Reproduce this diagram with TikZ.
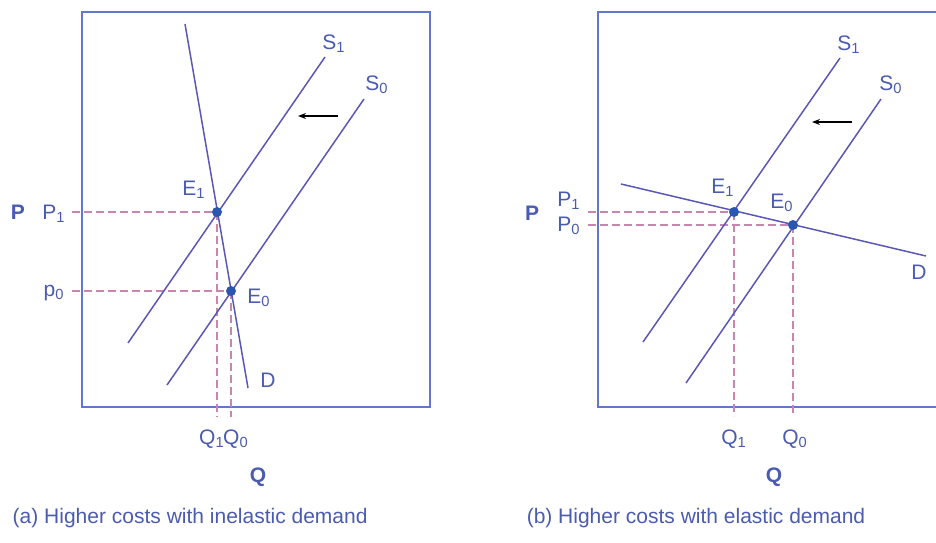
\documentclass[tikz,border=0pt]{standalone}
\usepackage{fontspec}
\setmainfont{Liberation Sans}
\usetikzlibrary{arrows.meta, positioning}
\definecolor{cframe}{HTML}{5F78CC}
\definecolor{ccurve}{HTML}{5A58B4}
\definecolor{ctext}{HTML}{4B5BB0}
\definecolor{cdash}{HTML}{C785B0}
\definecolor{cdot}{HTML}{2A56B2}
\tikzset{
  every picture/.style={line width=0.75pt},
  frame/.style={draw=cframe, line width=1pt},
  curve/.style={draw=ccurve, line width=0.75pt},
  guide/.style={draw=cdash, dash pattern=on 4pt off 2pt, line width=0.6pt},
  eq/.style={circle, fill=cdot, inner sep=0pt, minimum size=5pt},
  lbl/.style={text=ctext, inner sep=0pt, font=\fontsize{10.5}{12}\selectfont},
  axlbl/.style={lbl, font=\fontsize{10.5}{12}\selectfont\bfseries},
  caption/.style={lbl, anchor=west},
  shiftarrow/.style={-{Stealth[length=4pt, width=3pt]}, draw=black, line width=0.6pt},
}

\begin{document}
\begin{tikzpicture}[x=0.5pt, y=-0.5pt]
  \useasboundingbox (0,0) rectangle (936,542);
  \clip (0,0) rectangle (936,542);

  % (a) inelastic demand
  \draw[frame] (82,12) rectangle (430,407);
  \coordinate (aD1) at (185,24);  \coordinate (aD2) at (248,388);
  \coordinate (aS1a) at (325,57); \coordinate (aS1b) at (128,343);
  \coordinate (aS0a) at (364,99); \coordinate (aS0b) at (167,385);
  \coordinate (aE1) at (217,212); \coordinate (aE0) at (231,291);
  \coordinate (aP1) at (72,212);  \coordinate (aP0) at (72,291);
  \coordinate (aQ1) at (217,417); \coordinate (aQ0) at (231,417);
  \coordinate (aA1) at (338,116); \coordinate (aA2) at (298,116);
  \draw[guide] (aP1) -- (aE1);
  \draw[guide] (aP0) -- (aE0);
  \draw[guide] (aE1) -- (aQ1);
  \draw[guide] (aE0) -- (aQ0);
  \draw[curve] (aD1) -- (aD2);
  \draw[curve] (aS1a) -- (aS1b);
  \draw[curve] (aS0a) -- (aS0b);
  \draw[shiftarrow] (aA1) -- (aA2);
  \node[eq] (aE1dot) at (aE1) {};
  \node[eq] (aE0dot) at (aE0) {};
  \node[lbl] (aS1lbl) at (334,44) {S\textsubscript{1}};
  \node[lbl] (aS0lbl) at (377,85) {S\textsubscript{0}};
  \node[lbl] (aE1lbl) at (194,190) {E\textsubscript{1}};
  \node[lbl] (aE0lbl) at (259,298) {E\textsubscript{0}};
  \node[lbl] (aDlbl) at (268,380) {D};
  \node[axlbl] (aPlbl) at (18,212) {P};
  \node[lbl] (aP1lbl) at (54,214) {P\textsubscript{1}};
  \node[lbl] (aP0lbl) at (54,293) {p\textsubscript{0}};
  \node[lbl] (aQ1lbl) at (212,439) {Q\textsubscript{1}};
  \node[lbl] (aQ0lbl) at (236,439) {Q\textsubscript{0}};
  \node[axlbl] (aQlbl) at (258,477) {Q};
  \node[caption] (acap) at (12,518) {(a) Higher costs with inelastic demand};

  % (b) elastic demand
  \draw[frame] (598,12) rectangle (948,407);
  \coordinate (bD1) at (621,184);  \coordinate (bD2) at (926,256);
  \coordinate (bS1a) at (840,58);  \coordinate (bS1b) at (643,342);
  \coordinate (bS0a) at (881,99);  \coordinate (bS0b) at (686,383);
  \coordinate (bE1) at (734,212);  \coordinate (bE0) at (793,225);
  \coordinate (bP1) at (588,212);  \coordinate (bP0) at (588,225);
  \coordinate (bQ1) at (734,416);  \coordinate (bQ0) at (793,416);
  \coordinate (bA1) at (852,122);  \coordinate (bA2) at (812,122);
  \draw[guide] (bP1) -- (bE1);
  \draw[guide] (bP0) -- (bE0);
  \draw[guide] (bE1) -- (bQ1);
  \draw[guide] (bE0) -- (bQ0);
  \draw[curve] (bD1) -- (bD2);
  \draw[curve] (bS1a) -- (bS1b);
  \draw[curve] (bS0a) -- (bS0b);
  \draw[shiftarrow] (bA1) -- (bA2);
  \node[eq] (bE1dot) at (bE1) {};
  \node[eq] (bE0dot) at (bE0) {};
  \node[lbl] (bS1lbl) at (849,45) {S\textsubscript{1}};
  \node[lbl] (bS0lbl) at (891,85) {S\textsubscript{0}};
  \node[lbl] (bE1lbl) at (723,188) {E\textsubscript{1}};
  \node[lbl] (bE0lbl) at (782,203) {E\textsubscript{0}};
  \node[lbl] (bDlbl) at (919,272) {D};
  \node[axlbl] (bPlbl) at (532,213) {P};
  \node[lbl] (bP1lbl) at (569,201) {P\textsubscript{1}};
  \node[lbl] (bP0lbl) at (569,226) {P\textsubscript{0}};
  \node[lbl] (bQ1lbl) at (734,439) {Q\textsubscript{1}};
  \node[lbl] (bQ0lbl) at (795,439) {Q\textsubscript{0}};
  \node[axlbl] (bQlbl) at (774,477) {Q};
  \node[caption] (bcap) at (526,518) {(b) Higher costs with elastic demand};
\end{tikzpicture}
\end{document}
